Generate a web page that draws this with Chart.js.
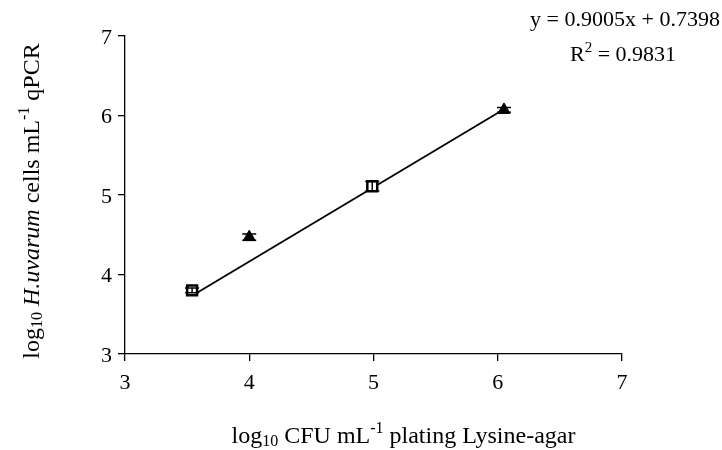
<!DOCTYPE html>
<html>
<head>
<meta charset="utf-8">
<script src="https://cdn.jsdelivr.net/npm/chart.js@4.4.1/dist/chart.umd.min.js"></script>
<style>
  html, body { margin: 0; padding: 0; background: #fff; }
  #wrap { width: 722px; height: 450px; }
</style>
</head>
<body>
<div id="wrap"><canvas id="chart" width="722" height="450"></canvas></div>
<script>
/* plate counts vs qPCR, log10 units */
var squareX = [3.54, 4.99];
var squareY = [3.80, 5.11];
var squareErr = [0.03, 0.06];

var triangleX = [4.00, 6.05];
var triangleY = [4.47, 6.07];
var triangleErr = [0.04, 0.03];

// fitted trendline, ends of the drawn segment
var trendX = [3.59, 6.04];
var trendY = [3.78, 6.07];

var axisMin = 3, axisMax = 7;
var equationText = "y = 0.9005x + 0.7398";
var r2Text = " = 0.9831";

var SERIF = "'Liberation Serif', 'Times New Roman', serif";

function pts(xs, ys) {
  return xs.map(function (x, i) { return { x: x, y: ys[i] }; });
}

// mixed font runs (sub/superscripts, italics) on one baseline
function drawRuns(ctx, runs, x, y) {
  var total = 0;
  runs.forEach(function (r) { ctx.font = r.font; total += ctx.measureText(r.text).width; });
  var cx = x - total / 2;
  ctx.textAlign = 'left';
  ctx.textBaseline = 'alphabetic';
  runs.forEach(function (r) {
    ctx.font = r.font;
    ctx.fillText(r.text, cx, y + (r.dy || 0));
    cx += ctx.measureText(r.text).width;
  });
}

var title = "24px " + SERIF;
var titleSmall = "16px " + SERIF;
var titleItal = "italic 24px " + SERIF;
var eq = "22px " + SERIF;
var eqSmall = "15px " + SERIF;

var errorBars = {
  id: 'errorBars',
  afterDatasetsDraw: function (chart) {
    var ctx = chart.ctx, xs = chart.scales.x, ys = chart.scales.y;
    ctx.save();
    ctx.strokeStyle = '#000';
    ctx.lineWidth = 1.5;
    [[squareX, squareY, squareErr], [triangleX, triangleY, triangleErr]].forEach(function (s) {
      s[0].forEach(function (xv, i) {
        var px = xs.getPixelForValue(xv);
        var top = ys.getPixelForValue(s[1][i] + s[2][i]);
        var bot = ys.getPixelForValue(s[1][i] - s[2][i]);
        ctx.beginPath();
        ctx.moveTo(px, top); ctx.lineTo(px, bot);
        ctx.moveTo(px - 7, top); ctx.lineTo(px + 7, top);
        ctx.moveTo(px - 7, bot); ctx.lineTo(px + 7, bot);
        ctx.stroke();
      });
    });
    ctx.restore();
  }
};

var labels = {
  id: 'labels',
  afterDraw: function (chart) {
    var ctx = chart.ctx, a = chart.chartArea;
    ctx.save();
    ctx.fillStyle = '#000';

    // x axis title
    drawRuns(ctx, [
      { text: "log", font: title },
      { text: "10", font: titleSmall, dy: 3 },
      { text: " CFU mL", font: title },
      { text: "-1", font: titleSmall, dy: -10 },
      { text: " plating Lysine-agar", font: title }
    ], (a.left + a.right) / 2 + 30, 443);

    // y axis title
    ctx.save();
    ctx.translate(39, (a.top + a.bottom) / 2 + 6);
    ctx.rotate(-Math.PI / 2);
    drawRuns(ctx, [
      { text: "log", font: title },
      { text: "10", font: titleSmall, dy: 3 },
      { text: " ", font: title },
      { text: "H.uvarum", font: titleItal },
      { text: " cells mL", font: title },
      { text: "-1", font: titleSmall, dy: -10 },
      { text: " qPCR", font: title }
    ], 0, 0);
    ctx.restore();

    // regression equation
    drawRuns(ctx, [{ text: equationText, font: eq }], 625, 26);
    drawRuns(ctx, [
      { text: "R", font: eq },
      { text: "2", font: eqSmall, dy: -9 },
      { text: r2Text, font: eq }
    ], 623, 61);

    ctx.restore();
  }
};

var ctx = document.getElementById('chart').getContext('2d');
var chart = new Chart(ctx, {
  type: 'scatter',
  data: {
    datasets: [
      {
        type: 'line',
        data: pts(trendX, trendY),
        borderColor: '#000',
        borderWidth: 1.8,
        pointRadius: 0,
        fill: false,
        order: 3
      },
      {
        data: pts(squareX, squareY),
        pointStyle: 'rect',
        pointRadius: 7,
        backgroundColor: '#fff',
        borderColor: '#000',
        borderWidth: 2.5,
        order: 2
      },
      {
        data: pts(triangleX, triangleY),
        pointStyle: 'triangle',
        pointRadius: 7,
        backgroundColor: '#000',
        borderColor: '#000',
        borderWidth: 1,
        order: 1
      }
    ]
  },
  options: {
    responsive: false,
    animation: false,
    layout: { padding: { top: 36, right: 100, left: 0, bottom: 0 } },
    plugins: { legend: { display: false }, tooltip: { enabled: false } },
    scales: {
      x: {
        type: 'linear',
        min: axisMin, max: axisMax,
        afterFit: function (s) { s.height = 96; },
        border: { color: '#000', width: 1.3 },
        grid: { drawOnChartArea: false, color: '#000', lineWidth: 1.3, tickLength: 7 },
        ticks: { stepSize: 1, color: '#000', padding: 9, font: { family: SERIF, size: 22 } }
      },
      y: {
        type: 'linear',
        min: axisMin, max: axisMax,
        afterFit: function (s) { s.width = 125; },
        border: { color: '#000', width: 1.3 },
        grid: { drawOnChartArea: false, color: '#000', lineWidth: 1.3, tickLength: 7 },
        ticks: { stepSize: 1, color: '#000', padding: 6, labelOffset: 2, font: { family: SERIF, size: 22 } }
      }
    }
  },
  plugins: [errorBars, labels]
});
</script>
</body>
</html>
